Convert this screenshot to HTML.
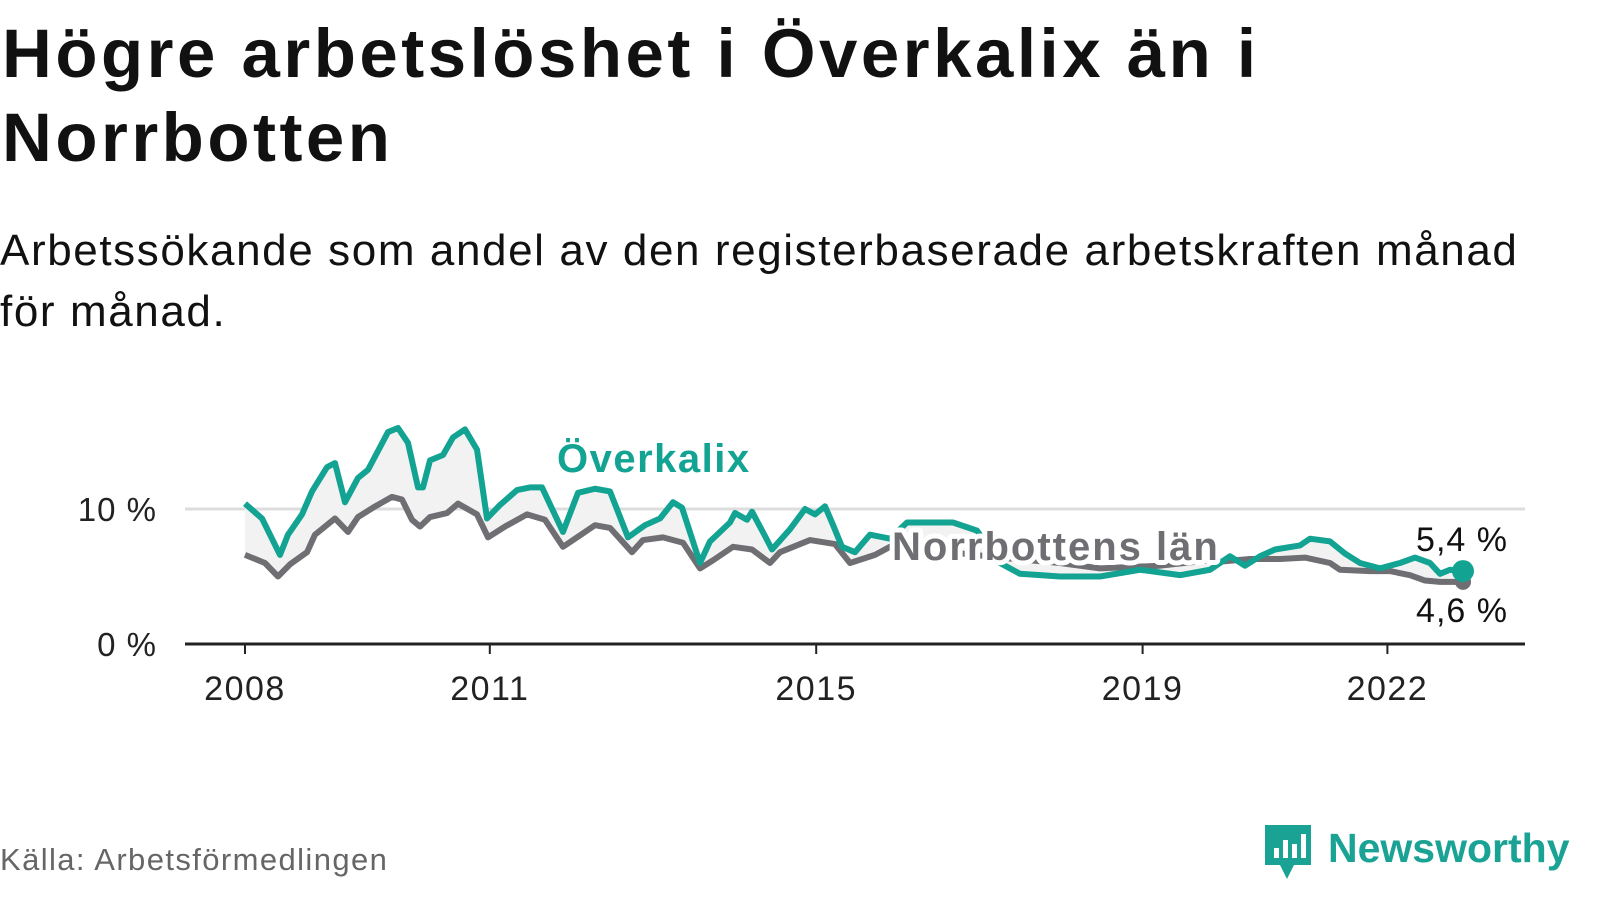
<!DOCTYPE html>
<html><head><meta charset="utf-8"><style>
body{margin:0;width:1600px;height:900px;background:#fff;font-family:"Liberation Sans",sans-serif;overflow:hidden;position:relative}
h1{position:absolute;left:2px;top:12px;margin:0;font-size:69px;line-height:84px;font-weight:bold;color:#111;letter-spacing:3.5px}
.sub{position:absolute;left:0;top:220px;font-size:44px;line-height:61px;color:#111;letter-spacing:1.6px}
.src{position:absolute;left:0;top:842px;font-size:31px;color:#666;letter-spacing:1.4px}
</style></head><body>
<h1>Högre arbetslöshet i Överkalix än i<br>Norrbotten</h1>
<div class="sub">Arbetssökande som andel av den registerbaserade arbetskraften månad<br>för månad.</div>
<svg id="chart" width="1600" height="900" style="position:absolute;left:0;top:0"></svg>
<div class="src">Källa: Arbetsförmedlingen</div>
<div style="position:absolute;left:1262px;top:822px;">
<svg width="320" height="60"><path d="M3 3h46v40h-17l-7 14l-7-14h-15z" fill="#1aa394"/><rect x="12" y="26" width="5" height="10" fill="#fff"/><rect x="21" y="18" width="5" height="18" fill="#fff"/><rect x="30" y="22" width="5" height="14" fill="#fff"/><rect x="39" y="12" width="5" height="24" fill="#fff"/>
<text x="66" y="40" font-family="Liberation Sans" font-weight="bold" font-size="41" fill="#1aa394">Newsworthy</text></svg></div>
<script>
const xTickYears=[2008,2011,2015,2019,2022];
const yTicks=[0,10];
const ovX=[245,262,280,288,302,312,327,335,345,358,368,388,398,408,418,423,430,443,453,465,477,487,500,517,530,542,563,578,595,610,628,645,660,673,682,700,710,730,735,747,752,765,772,790,805,815,825,832,842,855,870,890,907,930,953,977,1000,1020,1060,1100,1140,1180,1210,1230,1245,1260,1275,1300,1310,1330,1345,1360,1380,1400,1415,1430,1440,1450,1463];
const ovV=[10.4,9.3,6.6,8.1,9.6,11.3,13.1,13.4,10.5,12.3,12.9,15.7,16.0,14.9,11.6,11.6,13.6,14.0,15.3,15.9,14.4,9.3,10.3,11.4,11.6,11.6,8.3,11.2,11.5,11.3,7.9,8.8,9.3,10.5,10.1,6.0,7.6,9.0,9.7,9.2,9.8,8.0,7.0,8.5,10.0,9.6,10.2,9.0,7.2,6.8,8.1,7.8,9.0,9.0,9.0,8.4,6.0,5.2,5.0,5.0,5.5,5.1,5.5,6.5,5.8,6.5,7.0,7.3,7.8,7.6,6.7,6.0,5.6,6.0,6.4,6.0,5.2,5.5,5.4];
const nbX=[245,265,278,290,307,315,335,348,358,373,392,402,412,420,430,447,458,477,488,505,527,545,563,577,595,610,632,643,663,683,700,713,733,752,770,780,810,835,850,875,890,950,1000,1060,1100,1160,1210,1220,1250,1280,1305,1330,1340,1370,1390,1410,1425,1440,1463];
const nbV=[6.6,6.0,5.0,5.9,6.8,8.1,9.3,8.3,9.4,10.1,10.9,10.7,9.2,8.7,9.4,9.7,10.4,9.6,7.9,8.7,9.6,9.2,7.2,7.9,8.8,8.6,6.8,7.7,7.9,7.5,5.6,6.2,7.2,7.0,6.0,6.8,7.7,7.4,6.0,6.6,7.2,6.8,6.4,6.0,5.6,5.8,6.2,6.1,6.3,6.3,6.4,6.0,5.5,5.4,5.4,5.1,4.7,4.6,4.6];
const X=yr=>245+(yr-2008)*81.6;
const PX=p=>p;
const Y=v=>644-v*13.5;
const svg=document.getElementById('chart');const NS='http://www.w3.org/2000/svg';
function mk(t,a){const e=document.createElementNS(NS,t);for(const k in a)e.setAttribute(k,a[k]);svg.appendChild(e);return e;}
yTicks.forEach(v=>{
 const l=mk('line',{x1:185,x2:1525,y1:Y(v),y2:Y(v),stroke:v?'#dddddd':'#222','stroke-width':3});
 
 
 const t=mk('text',{x:157,y:Y(v)+12,'text-anchor':'end','font-size':33,'letter-spacing':1,fill:'#222'});t.textContent=v+' %';
 
 
});
xTickYears.forEach(yr=>{
 const l=mk('line',{x1:X(yr),x2:X(yr),y1:644,y2:654,stroke:'#222','stroke-width':2});
 
 
 const t=mk('text',{x:X(yr),y:700,'text-anchor':'middle','font-size':34,'letter-spacing':1.5,fill:'#222'});t.textContent=yr;
 
 
});
let d='M'+ovX.map((x,i)=>PX(x)+','+Y(ovV[i])).join('L');
for(let i=nbX.length-1;i>=0;i--)d+='L'+PX(nbX[i])+','+Y(nbV[i]);
const area=mk('path',{d:d+'Z',fill:'#f2f2f2'});


const nb=mk('polyline',{points:nbX.map((x,i)=>PX(x)+','+Y(nbV[i])).join(' '),fill:'none',stroke:'#6f6e73','stroke-width':6,'stroke-linejoin':'round'});


const ov=mk('polyline',{points:ovX.map((x,i)=>PX(x)+','+Y(ovV[i])).join(' '),fill:'none',stroke:'#12a393','stroke-width':6,'stroke-linejoin':'round'});


const nd=mk('circle',{cx:PX(nbX[nbX.length-1]),cy:Y(nbV[nbV.length-1]),r:8,fill:'#6f6e73'});


const od=mk('circle',{cx:PX(ovX[ovX.length-1]),cy:Y(ovV[ovV.length-1]),r:11,fill:'#12a393'});


const lbls=[['Överkalix',557,472,'#12a393','overkalix-label',1.5],['Norrbottens län',892,560,'#6f6e73','norrbotten-label',2]];
lbls.forEach(a=>{const t=mk('text',{x:a[1],y:a[2],'font-size':40,'letter-spacing':a[5],'font-weight':'bold',fill:a[3],stroke:'#fff','stroke-width':10,'paint-order':'stroke','stroke-linejoin':'round'});t.textContent=a[0];
 
 });
const ends=[[ovV[ovV.length-1],551,'overkalix-end-value'],[nbV[nbV.length-1],622,'norrbotten-end-value']];
ends.forEach(a=>{const t=mk('text',{x:1508,y:a[1],'text-anchor':'end','font-size':34,'letter-spacing':1,fill:'#111',stroke:'#fff','stroke-width':6,'paint-order':'stroke'});t.textContent=a[0].toFixed(1).replace('.',',')+' %';
 
 });
</script>
</body></html>
